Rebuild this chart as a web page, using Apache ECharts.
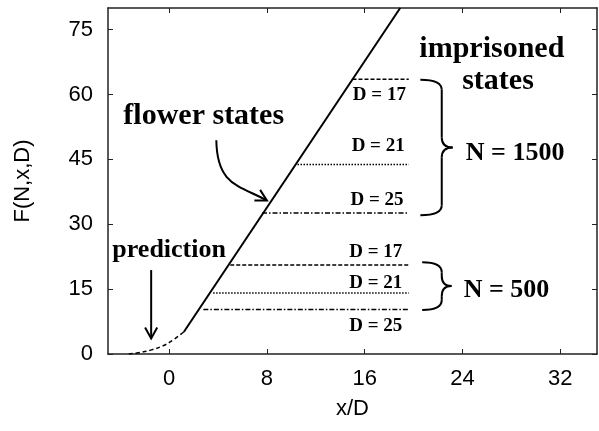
<!DOCTYPE html>
<html>
<head>
<meta charset="utf-8">
<script src="https://cdn.jsdelivr.net/npm/echarts@6/dist/echarts.min.js"></script>
<style>
html, body { margin: 0; padding: 0; background: #fff; }
#chart { width: 599px; height: 431px; }
</style>
</head>
<body>
<div id="chart"></div>
<script>
var xTicks = [0, 8, 16, 24, 32];
var yTicks = [0, 15, 30, 45, 60, 75];

// prediction (dashed curve)
var predX = [-3.3, -2.5, -1.5, -0.5, 0.3, 1.2];
var predY = [0, 0.3, 0.9, 1.9, 3.2, 5.1];

// flower states (solid line)
var flowerX = [1.2, 18.9];
var flowerY = [5.1, 80];

// imprisoned states: plateau level and where each plateau starts
var stateN = [1500, 1500, 1500, 500, 500, 500];
var stateD = [17, 21, 25, 17, 21, 25];
var stateY = [63.5, 43.8, 32.6, 20.6, 14.1, 10.3];
var stateStart = [15.0, 10.5, 7.6, 5.0, 3.6, 2.8];
var stateEnd = 19.6;

// label positions (data coords)
var dLabelX = [17.2, 17.1, 17.0, 16.9, 16.9, 16.9];
var dLabelY = [59.8, 48.0, 35.5, 23.6, 16.3, 6.5];

var dashByD = {
    17: [4, 2],
    21: [1.5, 1.5],
    25: [5, 2, 1.5, 2]
};

var chart = echarts.init(document.getElementById('chart'));

function pairs(xs, ys) {
    var out = [];
    for (var i = 0; i < xs.length; i++) {
        out.push([xs[i], ys[i]]);
    }
    return out;
}

var series = [
    {
        name: 'prediction',
        type: 'line',
        smooth: true,
        symbol: 'none',
        lineStyle: { color: '#000', width: 1.5, type: [4, 3] },
        data: pairs(predX, predY)
    },
    {
        name: 'flower states',
        type: 'line',
        symbol: 'none',
        lineStyle: { color: '#000', width: 2 },
        data: pairs(flowerX, flowerY)
    }
];
for (var i = 0; i < stateY.length; i++) {
    series.push({
        name: 'N=' + stateN[i] + ' D=' + stateD[i],
        type: 'line',
        symbol: 'none',
        lineStyle: { color: '#000', width: 1.5, type: dashByD[stateD[i]] },
        data: [[stateStart[i], stateY[i]], [stateEnd, stateY[i]]]
    });
}

var axisLine = { show: true, onZero: false, lineStyle: { color: '#222', width: 1.5 } };
var tickStyle = { color: '#222', width: 1 };

var option = {
    animation: false,
    grid: { left: 108, right: 2, top: 8, bottom: 77 },
    xAxis: [
        {
            type: 'value',
            min: -5,
            max: 35,
            position: 'bottom',
            name: 'x/D',
            nameLocation: 'middle',
            nameGap: 44,
            nameTextStyle: { fontFamily: 'Liberation Sans', fontSize: 22, color: '#000' },
            axisLine: axisLine,
            axisTick: { inside: true, length: 5, lineStyle: tickStyle, customValues: xTicks },
            axisLabel: { customValues: xTicks, margin: 14, fontFamily: 'Liberation Sans', fontSize: 22, color: '#000' },
            splitLine: { show: false }
        },
        {
            type: 'value',
            min: -5,
            max: 35,
            position: 'top',
            axisLine: axisLine,
            axisTick: { inside: true, length: 5, lineStyle: tickStyle, customValues: xTicks },
            axisLabel: { show: false },
            splitLine: { show: false }
        }
    ],
    yAxis: [
        {
            type: 'value',
            min: 0,
            max: 80,
            position: 'left',
            name: 'F(N,x,D)',
            nameLocation: 'middle',
            nameGap: 74,
            nameTextStyle: { fontFamily: 'Liberation Sans', fontSize: 22, color: '#000' },
            axisLine: axisLine,
            axisTick: { inside: true, length: 5, lineStyle: tickStyle, customValues: yTicks },
            axisLabel: { customValues: yTicks, margin: 15, fontFamily: 'Liberation Sans', fontSize: 22, color: '#000' },
            splitLine: { show: false }
        },
        {
            type: 'value',
            min: 0,
            max: 80,
            position: 'right',
            axisLine: axisLine,
            axisTick: { inside: true, length: 5, lineStyle: tickStyle, customValues: yTicks },
            axisLabel: { show: false },
            splitLine: { show: false }
        }
    ],
    series: series
};
chart.setOption(option);

// annotations, placed from data coords
function px(x, y) {
    return chart.convertToPixel({ xAxisIndex: 0, yAxisIndex: 0 }, [x, y]);
}
function label(str, x, y, size) {
    var p = px(x, y);
    return {
        type: 'text', x: p[0], y: p[1], z: 10,
        style: { text: str, fill: '#000', font: 'bold ' + size + 'px "Liberation Serif"', align: 'center', verticalAlign: 'middle' }
    };
}
var stroke = { stroke: '#000', lineWidth: 2, fill: null };
function seg(a, b) {
    return { type: 'line', z: 10, shape: { x1: a[0], y1: a[1], x2: b[0], y2: b[1] }, style: stroke };
}
function quad(a, c, b) {
    return { type: 'bezierCurve', z: 10, shape: { x1: a[0], y1: a[1], cpx1: c[0], cpy1: c[1], x2: b[0], y2: b[1] }, style: stroke };
}
function arrowHead(tip, from, size) {
    var dx = tip[0] - from[0], dy = tip[1] - from[1];
    var len = Math.sqrt(dx * dx + dy * dy);
    var ux = dx / len, uy = dy / len;
    var bx = tip[0] - ux * size, by = tip[1] - uy * size;
    var w = size * 0.55;
    return {
        type: 'polyline', z: 10,
        shape: { points: [[bx - uy * w, by + ux * w], tip, [bx + uy * w, by - ux * w]] },
        style: stroke
    };
}
function brace(xTip, yTop, yBot, xSpine, xMid, out) {
    var a = px(xTip, yTop), b = px(xTip, yBot);
    var s = px(xSpine, yTop)[0], m = px(xMid, (yTop + yBot) / 2);
    var yt = a[1], yb = b[1], ym = m[1], r = 10;
    out.push(quad(a, [s, yt], [s, yt + r]));
    out.push(seg([s, yt + r], [s, ym - r]));
    out.push(quad([s, ym - r], [s, ym], [m[0], ym]));
    out.push(quad([m[0], ym], [s, ym], [s, ym + r]));
    out.push(seg([s, ym + r], [s, yb - r]));
    out.push(quad([s, yb - r], [s, yb], b));
}

var graphics = [];
graphics.push(label('flower states', 2.83, 54.9, 30));
graphics.push(label('prediction', 0, 24.0, 26));
graphics.push(label('imprisoned', 26.4, 70.5, 30));
graphics.push(label('states', 26.9, 63.0, 30));
graphics.push(label('N = 1500', 28.3, 46.5, 26));
graphics.push(label('N = 500', 27.6, 14.8, 26));
for (var j = 0; j < stateD.length; j++) {
    graphics.push(label('D = ' + stateD[j], dLabelX[j], dLabelY[j], 19));
}

// prediction arrow
var pTop = px(-1.47, 19.4), pTip = px(-1.47, 3.6);
graphics.push(seg(pTop, pTip));
graphics.push(arrowHead(pTip, pTop, 11));

// flower states arrow
var f0 = px(3.86, 49.4), f1 = px(3.92, 39.0), f2 = px(5.71, 39.0), f3 = px(8.0, 35.5);
graphics.push({
    type: 'bezierCurve', z: 10,
    shape: { x1: f0[0], y1: f0[1], cpx1: f1[0], cpy1: f1[1], cpx2: f2[0], cpy2: f2[1], x2: f3[0], y2: f3[1] },
    style: stroke
});
graphics.push(arrowHead(f3, f2, 11));

// braces
brace(20.55, 63.4, 32.1, 22.3, 23.2, graphics);
brace(20.7, 21.2, 10.2, 22.3, 23.1, graphics);

chart.setOption({ graphic: graphics });
</script>
</body>
</html>
